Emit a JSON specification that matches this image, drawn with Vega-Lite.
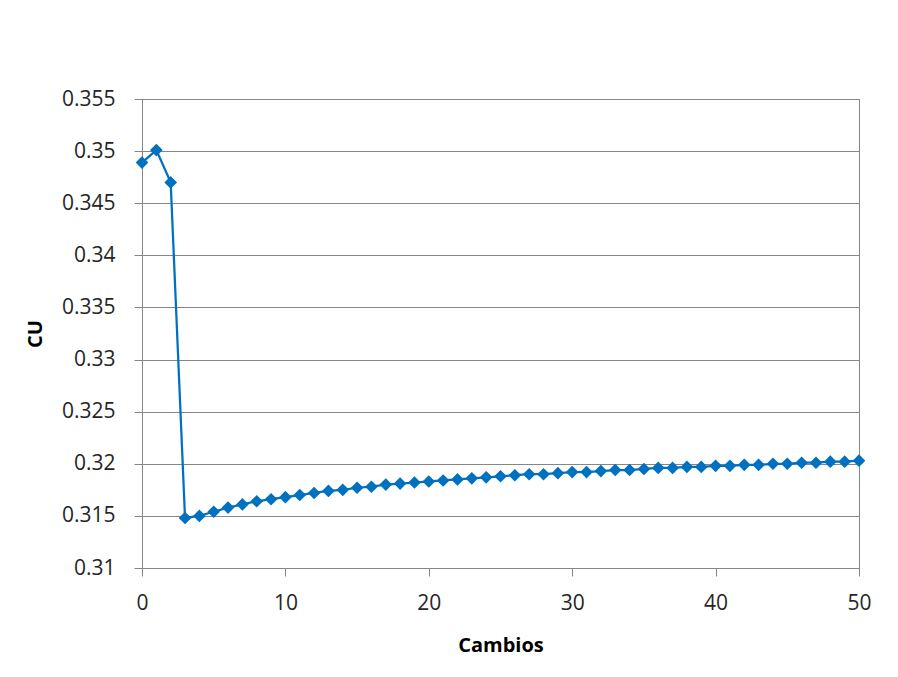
{
  "$schema": "https://vega.github.io/schema/vega-lite/v6.json",
  "width": 717,
  "height": 469,
  "autosize": {"type": "none"},
  "padding": {"left": 142, "top": 99, "right": 39, "bottom": 109},
  "background": "white",
  "config": {
    "view": {"stroke": "#868686", "strokeWidth": 1},
    "font": "Open Sans",
    "axis": {
      "gridColor": "#868686",
      "gridWidth": 1,
      "gridOpacity": 1,
      "domain": false,
      "tickColor": "#868686",
      "tickSize": 8,
      "labelFont": "Open Sans",
      "labelFontSize": 21,
      "labelColor": "#262626",
      "titleFont": "Open Sans",
      "titleFontSize": 20,
      "titleFontWeight": "bold",
      "titleColor": "#000000"
    }
  },
  "data": {
    "values": [
      {"Cambios": 0, "CU": 0.3489},
      {"Cambios": 1, "CU": 0.3501},
      {"Cambios": 2, "CU": 0.3470},
      {"Cambios": 3, "CU": 0.3148},
      {"Cambios": 4, "CU": 0.3150},
      {"Cambios": 5, "CU": 0.3154},
      {"Cambios": 6, "CU": 0.3158},
      {"Cambios": 7, "CU": 0.3161},
      {"Cambios": 8, "CU": 0.3164},
      {"Cambios": 9, "CU": 0.3166},
      {"Cambios": 10, "CU": 0.3168},
      {"Cambios": 11, "CU": 0.3170},
      {"Cambios": 12, "CU": 0.3172},
      {"Cambios": 13, "CU": 0.3174},
      {"Cambios": 14, "CU": 0.3175},
      {"Cambios": 15, "CU": 0.3177},
      {"Cambios": 16, "CU": 0.3178},
      {"Cambios": 17, "CU": 0.3180},
      {"Cambios": 18, "CU": 0.3181},
      {"Cambios": 19, "CU": 0.3182},
      {"Cambios": 20, "CU": 0.3183},
      {"Cambios": 21, "CU": 0.3184},
      {"Cambios": 22, "CU": 0.3185},
      {"Cambios": 23, "CU": 0.3186},
      {"Cambios": 24, "CU": 0.3187},
      {"Cambios": 25, "CU": 0.3188},
      {"Cambios": 26, "CU": 0.3189},
      {"Cambios": 27, "CU": 0.3190},
      {"Cambios": 28, "CU": 0.3190},
      {"Cambios": 29, "CU": 0.3191},
      {"Cambios": 30, "CU": 0.3192},
      {"Cambios": 31, "CU": 0.3192},
      {"Cambios": 32, "CU": 0.3193},
      {"Cambios": 33, "CU": 0.3194},
      {"Cambios": 34, "CU": 0.3194},
      {"Cambios": 35, "CU": 0.3195},
      {"Cambios": 36, "CU": 0.3196},
      {"Cambios": 37, "CU": 0.3196},
      {"Cambios": 38, "CU": 0.3197},
      {"Cambios": 39, "CU": 0.3197},
      {"Cambios": 40, "CU": 0.3198},
      {"Cambios": 41, "CU": 0.3198},
      {"Cambios": 42, "CU": 0.3199},
      {"Cambios": 43, "CU": 0.3199},
      {"Cambios": 44, "CU": 0.3200},
      {"Cambios": 45, "CU": 0.3200},
      {"Cambios": 46, "CU": 0.3201},
      {"Cambios": 47, "CU": 0.3201},
      {"Cambios": 48, "CU": 0.3202},
      {"Cambios": 49, "CU": 0.3202},
      {"Cambios": 50, "CU": 0.3203}
    ]
  },
  "mark": {
    "type": "line",
    "color": "#0070C0",
    "strokeWidth": 2.25,
    "point": {"shape": "diamond", "size": 160, "color": "#0070C0", "filled": true, "opacity": 1}
  },
  "encoding": {
    "x": {
      "field": "Cambios",
      "type": "quantitative",
      "scale": {"domain": [0, 50], "nice": false},
      "axis": {"values": [0, 10, 20, 30, 40, 50], "grid": false, "labelFlush": false, "labelPadding": 16, "titlePadding": 22, "title": "Cambios"}
    },
    "y": {
      "field": "CU",
      "type": "quantitative",
      "scale": {"domain": [0.31, 0.355], "nice": false, "zero": false},
      "axis": {"values": [0.31, 0.315, 0.32, 0.325, 0.33, 0.335, 0.34, 0.345, 0.35, 0.355], "format": "~f", "labelFlush": false, "labelPadding": 19, "titlePadding": 16, "title": "CU"}
    }
  }
}
